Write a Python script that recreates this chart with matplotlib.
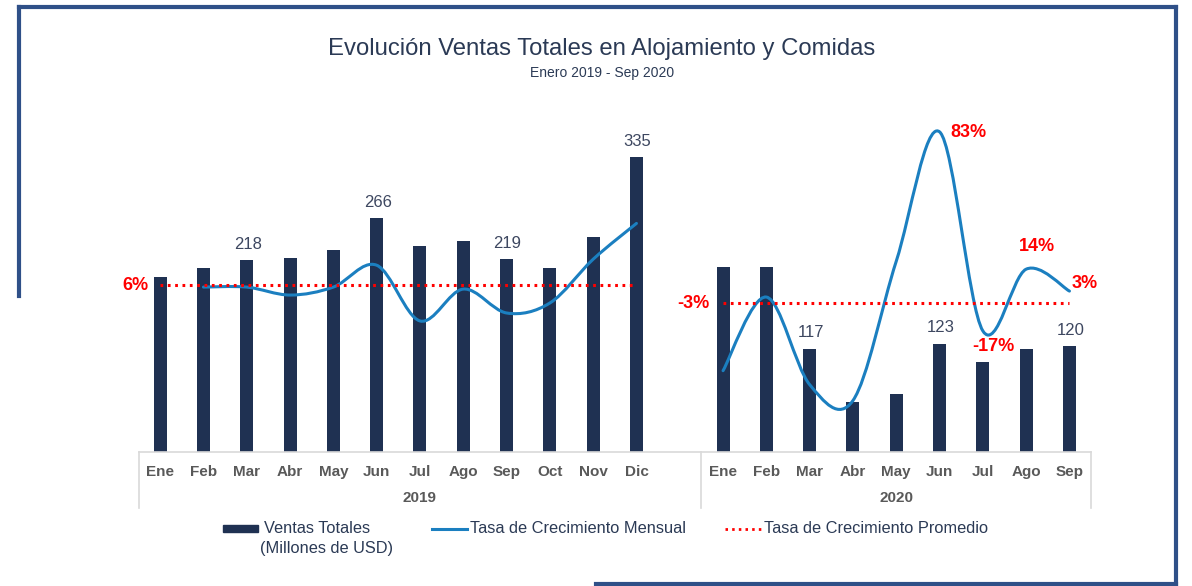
import numpy as np
import matplotlib
matplotlib.use("Agg")
import matplotlib.pyplot as plt
from matplotlib.path import Path
from matplotlib.patches import PathPatch, Rectangle
from matplotlib.lines import Line2D

plt.rcParams['font.family'] = ['Liberation Sans', 'DejaVu Sans']

# ---- data ----
meses_2019 = ['Ene', 'Feb', 'Mar', 'Abr', 'May', 'Jun', 'Jul', 'Ago', 'Sep', 'Oct', 'Nov', 'Dic']
meses_2020 = ['Ene', 'Feb', 'Mar', 'Abr', 'May', 'Jun', 'Jul', 'Ago', 'Sep']

# Ventas totales (millones de USD)
ventas_2019 = [199, 209, 218, 220, 230, 266, 234, 240, 219, 209, 244, 335]
ventas_2020 = [210, 210, 117, 56, 66, 123, 102, 117, 120]

# Tasa de crecimiento mensual (%), 2019 starts in Feb
crec_2019 = [5, 5, 1, 5, 16, -12, 4, -8, -3, 19, 37]
crec_2020 = [-37, 0, -44, -52, 18, 83, -17, 14, 3]

# Tasa de crecimiento promedio (%)
prom_2019 = 6
prom_2020 = -3

# which bars carry a value label
etiquetas_2019 = ['Mar', 'Jun', 'Sep', 'Dic']
etiquetas_2020 = ['Mar', 'Jun', 'Sep']

# which growth points carry a label: month -> (dx, dy) pixel offset
etiq_crec_2020 = {'Jun': (11, -1), 'Jul': (11, -16), 'Ago': (11, 23), 'Sep': (2, 8)}

# ---- style ----
W, H = 1192, 586
bar_color = '#1f3152'
line_color = '#1b7fc0'
red = '#ff0000'
text_color = '#2b3a55'
gray = '#595959'
grid_gray = '#d9d9d9'
frame_color = '#2f5088'


def px(x):
    return x / W


def py(y):
    return 1 - y / H


def smooth_path(xs, ys):
    """Catmull-Rom style bezier path through the points (like Excel's smoothed line)."""
    pts = np.column_stack([xs, ys]).astype(float)
    n = len(pts)
    verts = [pts[0]]
    codes = [Path.MOVETO]
    for i in range(n - 1):
        p0 = pts[i - 1] if i > 0 else pts[i]
        p1 = pts[i]
        p2 = pts[i + 1]
        p3 = pts[i + 2] if i + 2 < n else pts[i + 1]
        verts += [p1 + (p2 - p0) / 6, p2 - (p3 - p1) / 6, p2]
        codes += [Path.CURVE4] * 3
    return Path(verts, codes)


x2019 = np.arange(len(meses_2019))
x2020 = np.arange(len(meses_2020)) + len(meses_2019) + 1

fig = plt.figure(figsize=(W / 100, H / 100), dpi=100)
ax = fig.add_axes([px(138.5), py(451.5), 952.6 / W, 351.5 / H])
ax.set_xlim(-0.5, 21.5)
ax.set_ylim(0, 400.5)

# bars
ax.bar(x2019, ventas_2019, width=0.30, color=bar_color, zorder=2)
ax.bar(x2020, ventas_2020, width=0.30, color=bar_color, zorder=2)

for xs, vals, meses, etiq in [(x2019, ventas_2019, meses_2019, etiquetas_2019),
                              (x2020, ventas_2020, meses_2020, etiquetas_2020)]:
    for xv, v, m in zip(xs, vals, meses):
        if m in etiq:
            ax.annotate(str(v), (xv, v), xytext=(1, 16), textcoords='offset pixels',
                        ha='center', va='center', fontsize=12, color='#3d4760')

# category axis
ax.set_xticks(list(x2019) + list(x2020))
ax.set_xticklabels(meses_2019 + meses_2020, fontsize=11, fontweight='bold', color=gray)
ax.tick_params(axis='x', length=0, pad=10)
ax.set_yticks([])
for s in ['top', 'right', 'left']:
    ax.spines[s].set_visible(False)
ax.spines['bottom'].set_color(grid_gray)
ax.spines['bottom'].set_linewidth(1.2)

xt = ax.get_xaxis_transform()
for xb in [-0.5, 12.5, 21.5]:
    ax.plot([xb, xb], [0, -0.161], transform=xt, clip_on=False, color=grid_gray, lw=1.2)

for label, xc in [('2019', 6.0), ('2020', 17.0)]:
    ax.annotate(label, (xc, 0), xycoords=xt, xytext=(0, -47), textcoords='offset pixels',
                ha='center', va='center', fontsize=11, fontweight='bold', color=gray)

# growth rate on secondary axis
ax2 = ax.twinx()
ax2.set_ylim(-77.6, 99.0)
ax2.set_yticks([])
for s in ax2.spines.values():
    s.set_visible(False)

ax2.add_patch(PathPatch(smooth_path(x2019[1:], crec_2019), fill=False,
                        edgecolor=line_color, lw=2.2, capstyle='round', zorder=3))
ax2.add_patch(PathPatch(smooth_path(x2020, crec_2020), fill=False,
                        edgecolor=line_color, lw=2.2, capstyle='round', zorder=3))

ax2.plot([x2019[0], x2019[-1]], [prom_2019, prom_2019], color=red, lw=2.2,
         dashes=(0.9, 1.5), zorder=4)
ax2.plot([x2020[0], x2020[-1]], [prom_2020, prom_2020], color=red, lw=2.2,
         dashes=(0.9, 1.5), zorder=4)

pct_kw = dict(textcoords='offset pixels', fontsize=13, fontweight='bold', color=red, va='center')
ax2.annotate(f'{prom_2019}%', (x2019[0], prom_2019), xytext=(-12, 0), ha='right', **pct_kw)
ax2.annotate(f'{prom_2020}%', (x2020[0], prom_2020), xytext=(-14, 0), ha='right', **pct_kw)
for m, (dx, dy) in etiq_crec_2020.items():
    i = meses_2020.index(m)
    ha = 'left' if m in ('Jun', 'Sep') else 'center'
    ax2.annotate(f'{crec_2020[i]}%', (x2020[i], crec_2020[i]), xytext=(dx, dy), ha=ha, **pct_kw)

# titles
fig.text(px(602), py(49.5), 'Evolución Ventas Totales en Alojamiento y Comidas',
         ha='center', va='center', fontsize=17.2, color=text_color)
fig.text(px(602), py(72.5), 'Enero 2019 - Sep 2020', ha='center', va='center',
         fontsize=10, color=text_color)

# legend
leg_y = 528.5
fig.add_artist(Rectangle((px(223), py(532)), 35 / W, 7 / H, transform=fig.transFigure,
                         color=bar_color))
fig.text(px(264), py(leg_y), 'Ventas Totales', ha='left', va='center', fontsize=11.8, color=text_color)
fig.text(px(260), py(548.5), '(Millones de USD)', ha='left', va='center', fontsize=11.8, color=text_color)
fig.add_artist(Line2D([px(432), px(467)], [py(leg_y), py(leg_y)], color=line_color, lw=2.2))
fig.text(px(470), py(leg_y), 'Tasa de Crecimiento Mensual', ha='left', va='center',
         fontsize=11.8, color=text_color)
fig.add_artist(Line2D([px(725), px(761)], [py(leg_y), py(leg_y)], color=red, lw=2,
                      dashes=(0.9, 1.5)))
fig.text(px(764), py(leg_y), 'Tasa de Crecimiento Promedio', ha='left', va='center',
         fontsize=11.8, color=text_color)

# partial frame around the chart
frame_kw = dict(color=frame_color, lw=3, solid_capstyle='projecting')
fig.add_artist(Line2D([px(19), px(1176)], [py(7), py(7)], **frame_kw))
fig.add_artist(Line2D([px(19), px(19)], [py(7), py(296)], **frame_kw))
fig.add_artist(Line2D([px(1176), px(1176)], [py(7), py(584)], **frame_kw))
fig.add_artist(Line2D([px(596), px(1176)], [py(584), py(584)], **frame_kw))

fig.savefig('out.png', dpi=100)
